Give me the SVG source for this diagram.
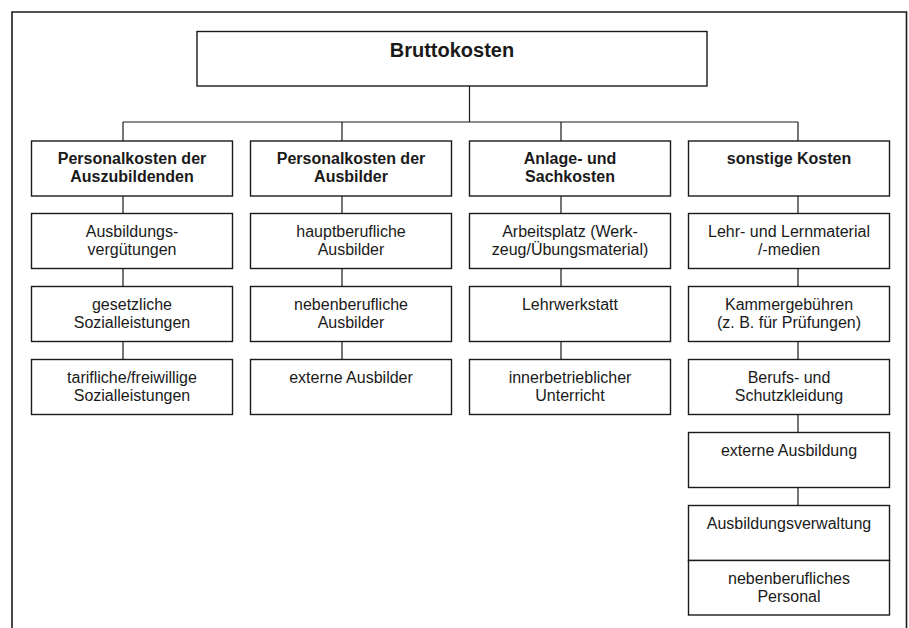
<svg xmlns="http://www.w3.org/2000/svg" width="909" height="628" viewBox="0 0 909 628">
<style>
.box{fill:#fff;stroke:#1a1a1a;stroke-width:1.4}
.t{font-family:"Liberation Sans",Arial,sans-serif;font-size:16px;fill:#1a1a1a;text-anchor:middle}
.b{font-weight:bold}
.c{stroke:#1a1a1a;stroke-width:1.2;fill:none}
</style>
<rect width="909" height="628" fill="#fff"/>
<path d="M12,630 V12 H906.5 V630" fill="none" stroke="#1a1a1a" stroke-width="1.6"/>
<g id="connectors" class="c">
<path d="M469.5,86 V122 M123,122 H798 M123,122 V141 M342,122 V141 M561,122 V141 M798,122 V141"/>
<path d="M123,196 V213.5 M123,268.5 V286.5 M123,341.5 V359.5"/>
<path d="M342,196 V213.5 M342,268.5 V286.5 M342,341.5 V359.5"/>
<path d="M561,196 V213.5 M561,268.5 V286.5 M561,341.5 V359.5"/>
<path d="M798,196 V213.5 M798,268.5 V286.5 M798,341.5 V359.5 M798,414.5 V432.5 M798,487.5 V505.5"/>
</g>
<g id="bruttokosten"><rect class="box" x="197" y="31.5" width="510" height="54.5"/><text class="t b" x="452" y="56.5" style="font-size:20px">Bruttokosten</text></g>

<g id="h1"><rect class="box" x="31.5" y="141" width="201" height="55"/><text class="t b" x="132" y="164">Personalkosten der</text><text class="t b" x="132" y="182">Auszubildenden</text></g>
<g id="h2"><rect class="box" x="250.5" y="141" width="201" height="55"/><text class="t b" x="351" y="164">Personalkosten der</text><text class="t b" x="351" y="182">Ausbilder</text></g>
<g id="h3"><rect class="box" x="469.5" y="141" width="201" height="55"/><text class="t b" x="570" y="164">Anlage- und</text><text class="t b" x="570" y="182">Sachkosten</text></g>
<g id="h4"><rect class="box" x="688.5" y="141" width="201" height="55"/><text class="t b" x="789" y="164">sonstige Kosten</text></g>

<g id="a1"><rect class="box" x="31.5" y="213.5" width="201" height="55"/><text class="t" x="132" y="236.5">Ausbildungs-</text><text class="t" x="132" y="254.5">vergütungen</text></g>
<g id="a2"><rect class="box" x="31.5" y="286.5" width="201" height="55"/><text class="t" x="132" y="309.5">gesetzliche</text><text class="t" x="132" y="327.5">Sozialleistungen</text></g>
<g id="a3"><rect class="box" x="31.5" y="359.5" width="201" height="55"/><text class="t" x="132" y="382.5">tarifliche/freiwillige</text><text class="t" x="132" y="400.5">Sozialleistungen</text></g>

<g id="b1"><rect class="box" x="250.5" y="213.5" width="201" height="55"/><text class="t" x="351" y="236.5">hauptberufliche</text><text class="t" x="351" y="254.5">Ausbilder</text></g>
<g id="b2"><rect class="box" x="250.5" y="286.5" width="201" height="55"/><text class="t" x="351" y="309.5">nebenberufliche</text><text class="t" x="351" y="327.5">Ausbilder</text></g>
<g id="b3"><rect class="box" x="250.5" y="359.5" width="201" height="55"/><text class="t" x="351" y="382.5">externe Ausbilder</text></g>

<g id="c1"><rect class="box" x="469.5" y="213.5" width="201" height="55"/><text class="t" x="570" y="236.5">Arbeitsplatz (Werk-</text><text class="t" x="570" y="254.5">zeug/Übungsmaterial)</text></g>
<g id="c2"><rect class="box" x="469.5" y="286.5" width="201" height="55"/><text class="t" x="570" y="309.5">Lehrwerkstatt</text></g>
<g id="c3"><rect class="box" x="469.5" y="359.5" width="201" height="55"/><text class="t" x="570" y="382.5">innerbetrieblicher</text><text class="t" x="570" y="400.5">Unterricht</text></g>

<g id="d1"><rect class="box" x="688.5" y="213.5" width="201" height="55"/><text class="t" x="789" y="236.5">Lehr- und Lernmaterial</text><text class="t" x="789" y="254.5">/-medien</text></g>
<g id="d2"><rect class="box" x="688.5" y="286.5" width="201" height="55"/><text class="t" x="789" y="309.5">Kammergebühren</text><text class="t" x="789" y="327.5">(z. B. für Prüfungen)</text></g>
<g id="d3"><rect class="box" x="688.5" y="359.5" width="201" height="55"/><text class="t" x="789" y="382.5">Berufs- und</text><text class="t" x="789" y="400.5">Schutzkleidung</text></g>
<g id="d4"><rect class="box" x="688.5" y="432.5" width="201" height="55"/><text class="t" x="789" y="455.5">externe Ausbildung</text></g>
<g id="d5"><rect class="box" x="688.5" y="505.5" width="201" height="55"/><text class="t" x="789" y="528.5">Ausbildungsverwaltung</text></g>
<g id="d6"><rect class="box" x="688.5" y="560.5" width="201" height="54.5"/><text class="t" x="789" y="583.5">nebenberufliches</text><text class="t" x="789" y="601.5">Personal</text></g>
</svg>
